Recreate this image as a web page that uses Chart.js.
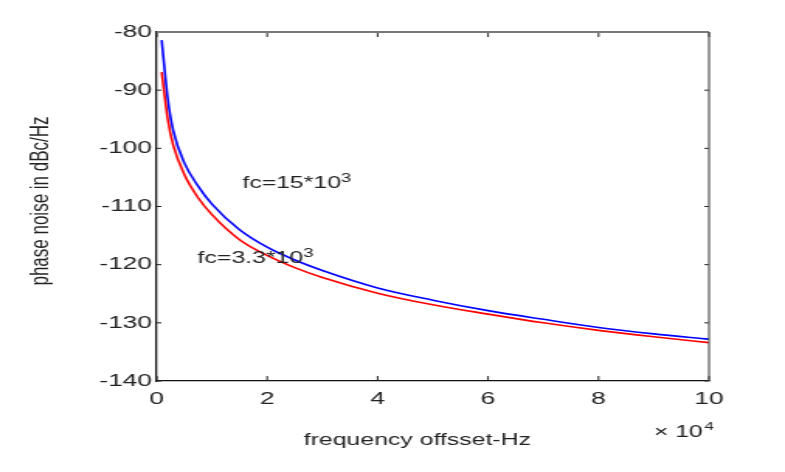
<!DOCTYPE html>
<html>
<head>
<meta charset="utf-8">
<script src="https://cdn.jsdelivr.net/npm/chart.js@4"></script>
<style>
  html, body { margin: 0; padding: 0; background: #fff; overflow: hidden; }
  #wrap { width: 506px; height: 472px; transform: scaleX(1.5514); transform-origin: 0 0; }
</style>
</head>
<body>
<div id="wrap"><canvas id="chart" width="506" height="472"></canvas></div>
<script>
// frequency offset in units of 10^4 Hz
const freqOffset = [0.09, 0.2, 0.3, 0.5, 0.75, 1, 1.5, 2, 2.5, 3, 4, 5, 6, 7, 8, 9, 10]
// fc = 15*10^3 (blue)
const noiseFc15 = [-81.4, -91.5, -97, -102.5, -106.5, -109.6, -114.0, -117.0, -119.2, -121.0, -124.0, -126.1, -127.9, -129.4, -130.8, -131.9, -132.8]
// fc = 3.3*10^3 (red)
const noiseFc33 = [-86.9, -95, -99.5, -104.5, -108.5, -111.4, -115.7, -118.4, -120.5, -122.2, -124.9, -126.9, -128.5, -130.0, -131.3, -132.4, -133.4]

const xTicks = [0, 2, 4, 6, 8, 10]
const yTicks = [-140, -130, -120, -110, -100, -90, -80]

const xTitle = 'frequency offsset-Hz'
const yTitle = 'phase noise in dBc/Hz'

// text labels placed on the curves, in data units
const curveNotes = [
  { x: 1.55, y: -106.8, base: 'fc=15*10', sup: '3' },
  { x: 0.74, y: -119.7, base: 'fc=3.3*10', sup: '3' },
]

const toPoints = (ys) => freqOffset.map((x, i) => ({ x, y: ys[i] }))

const FONT = "'Liberation Sans', Arial, sans-serif"

// box, inward ticks, axis titles, notes and the x10^4 exponent
const matlabBox = {
  id: 'matlabBox',
  afterDraw(chart) {
    const { ctx, chartArea: a, scales } = chart
    const xs = scales.x, ys = scales.y
    ctx.save()
    ctx.strokeStyle = '#222'
    ctx.lineWidth = 1
    ctx.beginPath()
    xTicks.forEach((v) => {
      const px = xs.getPixelForValue(v)
      ctx.moveTo(px, a.bottom); ctx.lineTo(px, a.bottom - 5)
      ctx.moveTo(px, a.top); ctx.lineTo(px, a.top + 5)
    })
    yTicks.forEach((v) => {
      const py = ys.getPixelForValue(v)
      ctx.moveTo(a.left, py); ctx.lineTo(a.left + 3, py)
      ctx.moveTo(a.right, py); ctx.lineTo(a.right - 3, py)
    })
    ctx.stroke()

    ctx.strokeStyle = '#7a7a7a'
    ctx.lineWidth = 2
    ctx.beginPath()
    ctx.moveTo(a.left, a.top); ctx.lineTo(a.right, a.top)
    ctx.stroke()
    ctx.strokeStyle = '#555'
    ctx.lineWidth = 1.2
    ctx.beginPath()
    ctx.moveTo(a.right, a.top); ctx.lineTo(a.right, a.bottom)
    ctx.stroke()

    ctx.fillStyle = '#222'
    ctx.textBaseline = 'alphabetic'
    ctx.textAlign = 'left'
    curveNotes.forEach((n) => {
      const px = xs.getPixelForValue(n.x)
      const py = ys.getPixelForValue(n.y)
      ctx.font = `16px ${FONT}`
      ctx.fillText(n.base, px, py)
      const w = ctx.measureText(n.base).width
      ctx.font = `12px ${FONT}`
      ctx.fillText(n.sup, px + w, py - 6)
    })

    ctx.font = `16px ${FONT}`
    ctx.textAlign = 'right'
    ctx.fillText('\u00d7 10', a.right - 4, a.bottom + 56)
    ctx.font = `11px ${FONT}`
    ctx.textAlign = 'left'
    ctx.fillText('4', a.right - 3, a.bottom + 49)

    // axis titles
    ctx.textAlign = 'center'
    ctx.textBaseline = 'middle'
    ctx.font = `16px ${FONT}`
    ctx.fillText(xTitle, 269, a.bottom + 60)
    ctx.translate(26, 201)
    ctx.rotate(-Math.PI / 2)
    ctx.font = `17px ${FONT}`
    ctx.fillText(yTitle, 0, 0)
    ctx.restore()
  },
}

new Chart(document.getElementById('chart'), {
  type: 'line',
  data: {
    datasets: [
      {
        label: 'fc=3.3*10^3',
        data: toPoints(noiseFc33),
        borderColor: '#ff0000',
        borderWidth: 1.6,
        pointRadius: 0,
        cubicInterpolationMode: 'monotone',
        fill: false,
      },
      {
        label: 'fc=15*10^3',
        data: toPoints(noiseFc15),
        borderColor: '#0000ff',
        borderWidth: 1.6,
        pointRadius: 0,
        cubicInterpolationMode: 'monotone',
        fill: false,
      },
    ],
  },
  options: {
    responsive: false,
    animation: false,
    devicePixelRatio: 1,
    layout: { padding: { left: 0, top: 32, right: 49, bottom: 0 } },
    plugins: {
      legend: { display: false },
      tooltip: { enabled: false },
    },
    scales: {
      x: {
        type: 'linear',
        min: 0,
        max: 10,
        afterBuildTicks: (s) => { s.ticks = xTicks.map((v) => ({ value: v })) },
        afterFit: (s) => { s.height = 91 },
        grid: { display: false, drawTicks: false },
        border: { display: true, color: '#111', width: 1.2 },
        ticks: { color: '#222', padding: 8, maxRotation: 0, font: { size: 17, family: FONT } },
      },
      y: {
        min: -140,
        max: -80,
        afterBuildTicks: (s) => { s.ticks = yTicks.map((v) => ({ value: v })) },
        afterFit: (s) => { s.width = 101 },
        grid: { display: false, drawTicks: false },
        border: { display: true, color: '#111', width: 1.3 },
        ticks: { color: '#222', padding: 3, font: { size: 17, family: FONT } },
      },
    },
  },
  plugins: [matlabBox],
})
</script>
</body>
</html>
